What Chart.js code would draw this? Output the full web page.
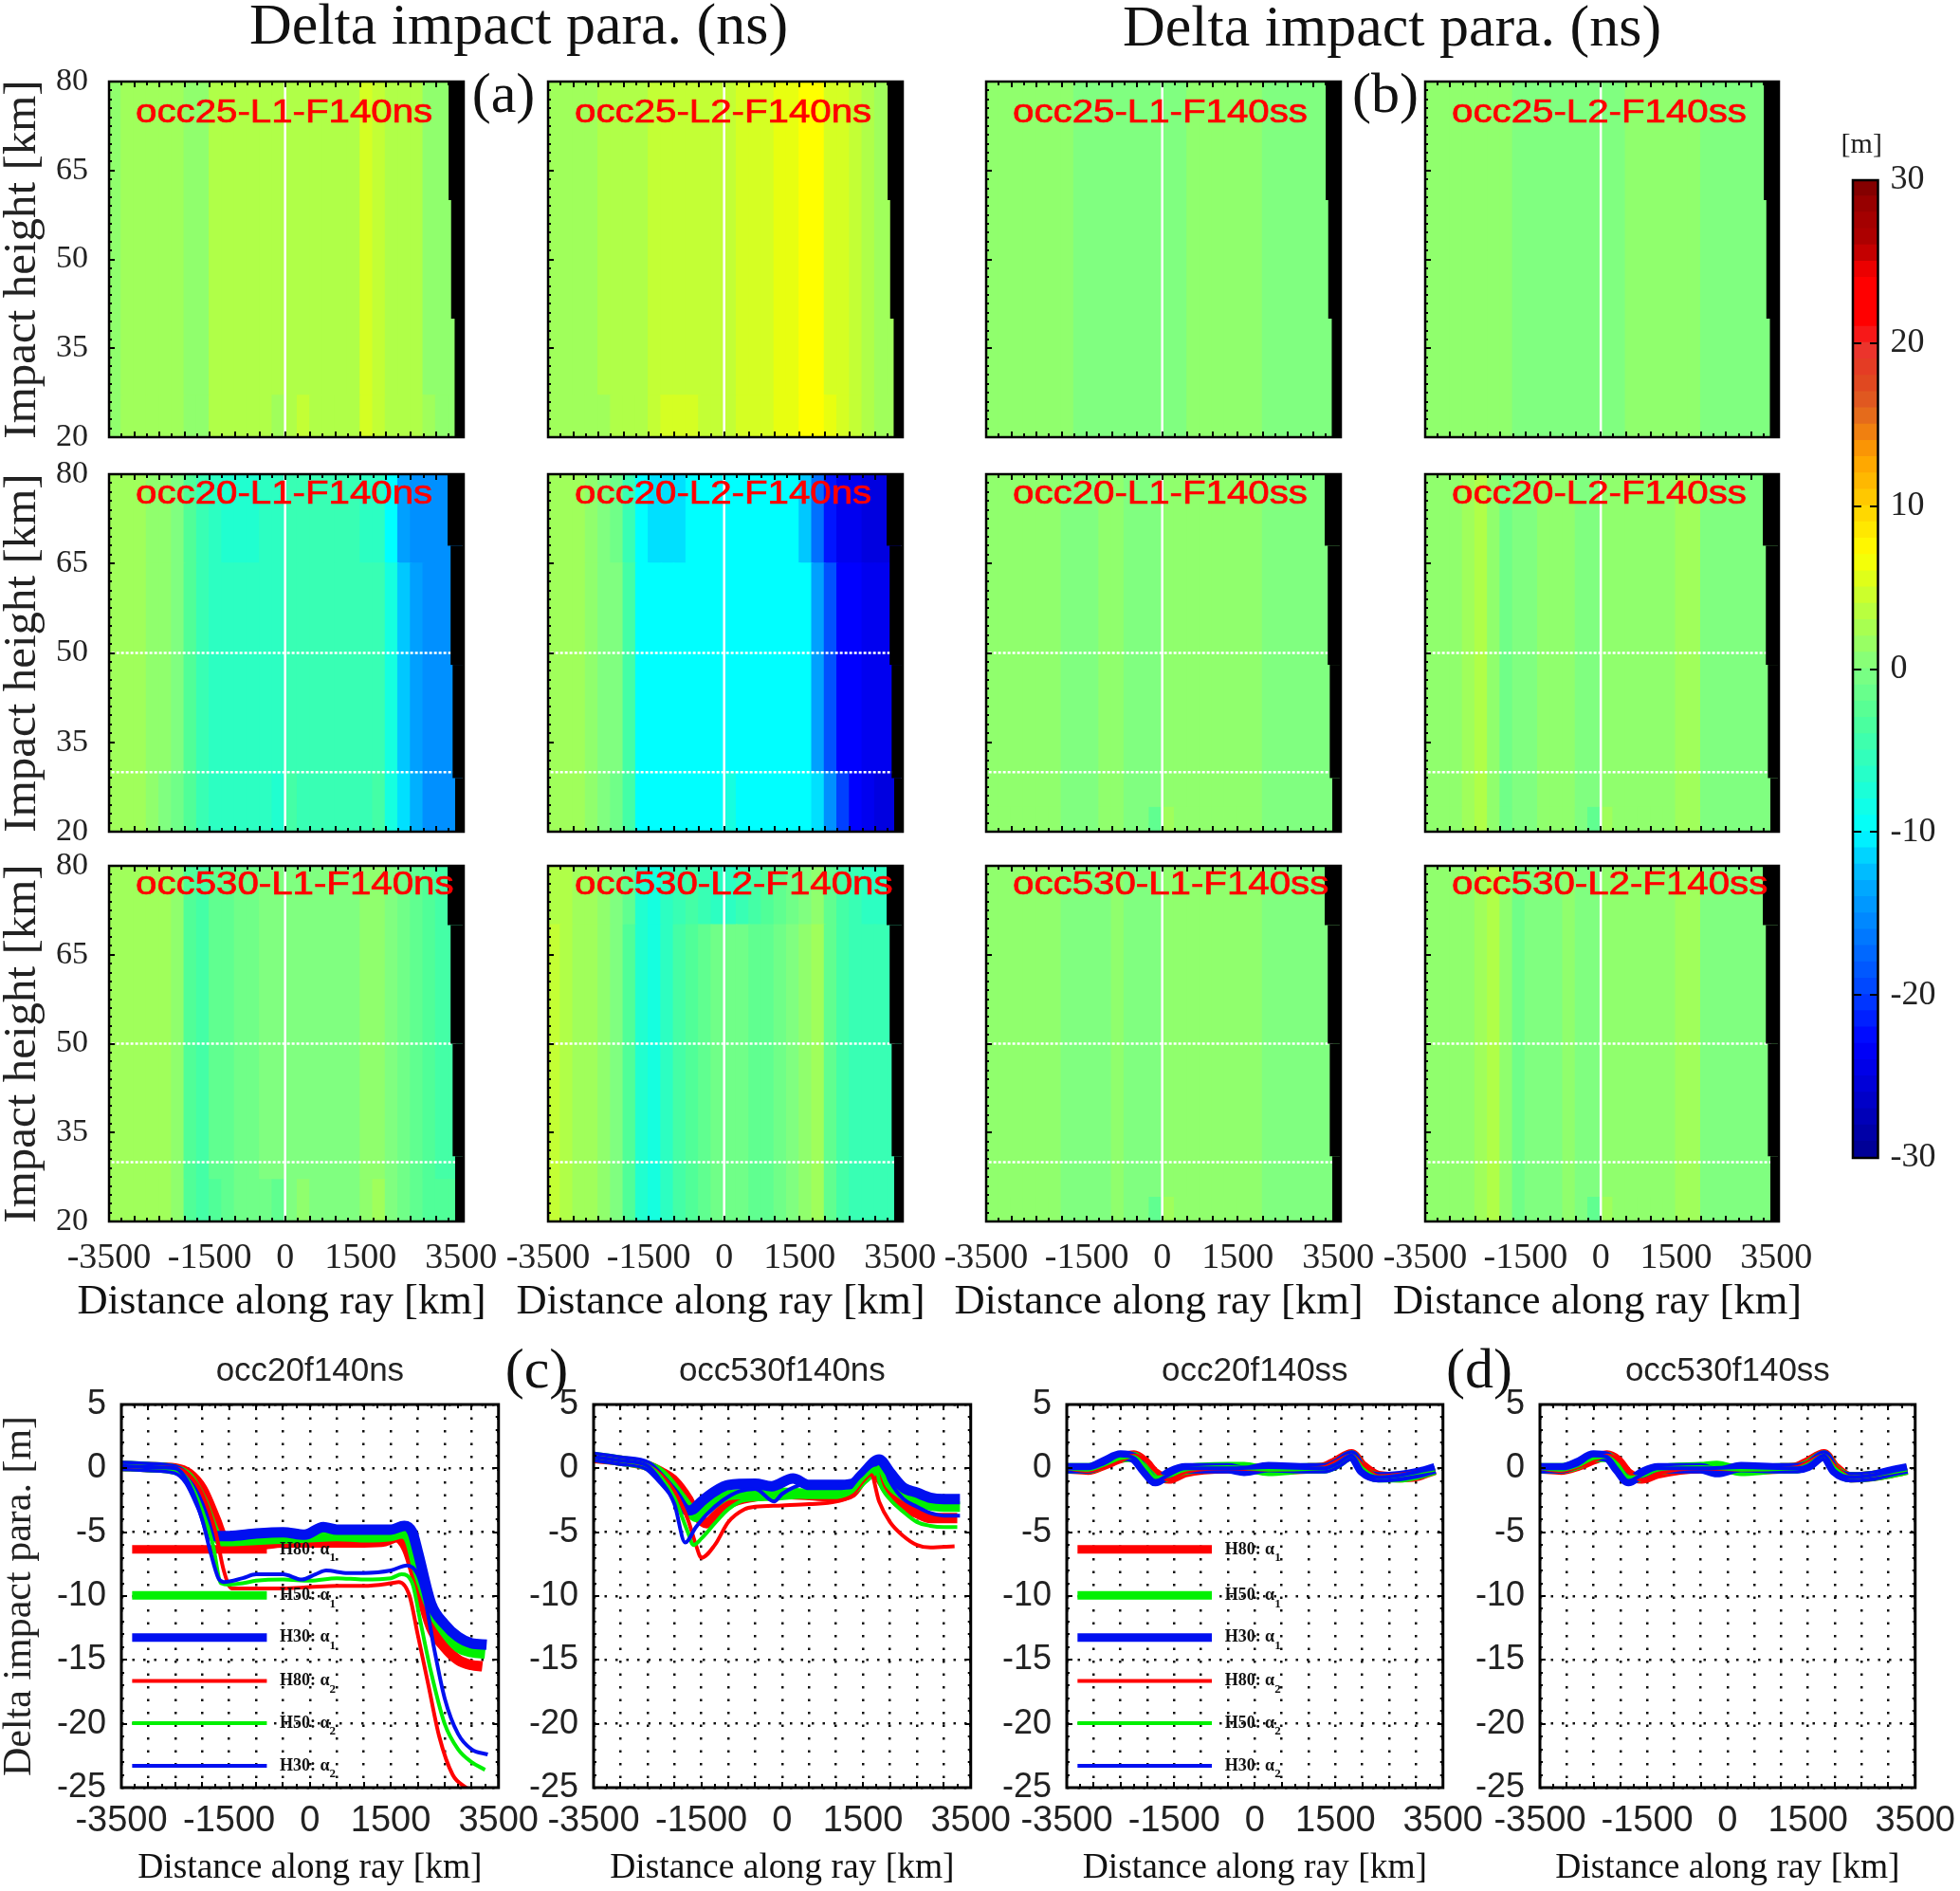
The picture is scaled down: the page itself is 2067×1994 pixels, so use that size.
<!DOCTYPE html>
<html>
<head>
<meta charset="utf-8">
<title>Delta impact para.</title>
<script src="https://cdn.jsdelivr.net/npm/chart.js@4"></script>
<style>
  html, body { margin: 0; background: #fff; }
  #page { position: relative; width: 2067px; height: 1994px; overflow: hidden; background: #fff; }
  #page canvas { position: absolute; }
  .head { position: absolute; font-family: "Liberation Serif", serif; color: #111; white-space: nowrap; transform: translate(-50%, -50%); }
</style>
</head>
<body>
<div id="page"></div>
<script>
// distance axis of the colour panels (centre of every column, km)
const heatDistance = [-3375,-3125,-2875,-2625,-2375,-2125,-1875,-1625,-1375,-1125,-875,-625,-375,-125,125,375,625,875,1125,1375,1625,1875,2125,2375,2625,2875,3125,3375];

// height bands of the colour panels (km), low to high
const bandsLow = [20, 27, 80];
const bandsThin = [20, 24, 80];
const bandsFull = [20, 80];
const bandsSlant = [20, 30, 65, 80];
const bandsHigh = [20, 70, 80];

// colour panel values [m], one row per height band, low to high
const occ25L1ns = [
  [1,2,2,2,2,2,1,1,3,3,3,3,3,2,3,4,3,3,3,3,5,4,3,3,3,2,1,1],
  [1,2,2,2,2,2,1,1,3,3,3,3,3,3,3,3,3,3,3,3,5,4,3,3,3,1,1,1]];
const occ25L2ns = [
  [2,2,2,2,2,3,3,3,4,5,5,5,4,4,4,5,5,5,6,6,7,7,6,5,4,3,2,2],
  [2,2,2,2,3,3,3,3,4,4,4,4,4,4,4,5,5,5,6,6,7,7,5,5,4,3,2,2]];
const occ25L1ss = [[1,1,1,1,1,1,1,0,0,0,0,0,0,0,0,0,1,1,1,1,1,1,0,0,0,0,0,0]];
const occ25L2ss = [[1,1,1,1,1,1,1,0,0,0,0,0,0,0,0,0,1,1,1,1,1,1,0,0,0,0,0,0]];
const occ20L1ns = [
  [2,2,2,1,0,-1,-3,-5,-6,-6,-6,-6,-6,-7,-4,-5,-5,-5,-5,-5,-5,-4,-8,-11,-13,-15,-15,-15],
  [2,2,2,1,1,0,-3,-5,-6,-6,-6,-6,-6,-6,-5,-5,-5,-5,-5,-5,-5,-5,-8,-12,-14,-15,-15,-15],
  [2,2,2,1,1,0,-3,-5,-6,-7,-7,-7,-6,-6,-5,-5,-5,-5,-5,-5,-6,-6,-10,-14,-15,-15,-15,-15]];
const occ20L2ns = [
  [2,2,2,1,0,-1,-4,-10,-10,-10,-10,-10,-10,-10,-8,-10,-10,-10,-10,-10,-10,-11,-15,-20,-23,-24,-25,-25],
  [2,2,2,1,0,0,-4,-10,-10,-10,-10,-10,-10,-10,-10,-10,-10,-10,-10,-10,-10,-14,-19,-23,-23,-24,-24,-24],
  [2,2,2,1,0,-1,-5,-10,-11,-11,-11,-10,-10,-10,-10,-10,-10,-10,-10,-10,-12,-17,-22,-24,-24,-25,-25,-25]];
const occ20L1ss = [
  [1,1,1,1,1,1,0,0,0,1,1,0,0,-2,2,1,1,1,1,1,1,1,0,0,0,0,0,0],
  [1,1,1,1,1,1,0,0,0,1,1,0,0,0,1,1,1,1,1,1,1,1,0,0,0,0,0,0]];
const occ20L2ss = [
  [1,1,1,2,3,1,-1,0,0,1,1,1,0,-2,2,1,1,1,1,1,2,2,0,0,0,0,0,0],
  [1,1,1,2,3,1,-1,0,0,1,1,1,0,0,1,1,1,1,1,1,2,2,0,0,0,0,0,0]];
const occ530L1ns = [
  [2,2,2,2,2,1,-3,-4,-3,-2,-1,-1,-1,-2,0,1,0,0,0,0,1,2,0,-1,-2,-3,-3,-3],
  [2,2,2,2,2,1,-3,-4,-2,-2,-1,-1,0,0,0,0,0,0,0,0,1,1,0,-1,-2,-3,-4,-4]];
const occ530L2ns = [
  [4,3,2,2,1,0,-3,-7,-8,-6,-4,-3,-2,-1,-1,-1,-2,-2,-1,0,1,2,-2,-4,-5,-5,-5,-5],
  [3,3,2,2,1,0,-2,-7,-8,-6,-5,-4,-5,-6,-6,-5,-4,-3,-2,-1,0,1,-2,-4,-5,-6,-6,-7]];
const occ530L1ss = [
  [1,1,1,1,1,1,0,0,0,0,1,0,0,-2,2,1,1,1,1,1,1,1,0,0,0,0,0,0],
  [1,1,1,1,1,1,0,0,0,0,1,0,0,0,1,1,1,1,1,1,1,1,0,0,0,0,0,0]];
const occ530L2ss = [
  [1,1,1,1,2,3,1,-1,0,0,0,1,0,-2,2,1,1,1,1,1,2,2,0,0,0,0,0,0],
  [1,1,1,1,2,3,1,-1,0,0,0,1,0,0,1,1,1,1,1,1,2,2,0,0,0,0,0,0]];

// where the rays end: [from height, to height, distance]
const rayEndRow25 = [[60,80,3250],[40,60,3300],[20,40,3370]];
const rayEndRow20 = [[68,80,3230],[48,68,3290],[29,48,3330],[20,29,3380]];
const rayEndRow530 = [[70,80,3230],[50,70,3290],[31,50,3330],[20,31,3380]];

// tick labels
const distanceLabels = [-3500,-1500,0,1500,3500];
const heightLabels = [20,35,50,65,80];
const deltaLabels = [5,0,-5,-10,-15,-20,-25];
const barLabels = [30,20,10,0,-10,-20,-30];

// colour scale of the bar on the right: [value, colour]
const colourStops = [[-30,'#00008f'],[-25,'#0000e0'],[-23,'#0000ff'],[-20,'#0040ff'],[-17,'#0070ff'],[-15,'#0090ff'],[-13,'#00b0ff'],[-11,'#00e0ff'],[-10,'#00ffff'],[-7,'#20ffd0'],[-3,'#50ff98'],[0,'#80ff80'],[3,'#b0ff48'],[6,'#e8ff10'],[7,'#ffff00'],[10,'#ffd000'],[13,'#ffa000'],[16,'#e06020'],[18,'#e04020'],[20,'#ee3030'],[21,'#ff0000'],[24,'#ff0000'],[26,'#b00000'],[28,'#a00000'],[30,'#7a0000']];

// occ20f140ns curves [distance, delta]
const c1H80a1 = [[-3500,.2],[-3000,.1],[-2500,0],[-2250,-.4],[-2000,-1.6],[-1750,-4],[-1600,-5.6],[-1500,-5.9],[-1000,-6],[-500,-5.8],[0,-5.8],[500,-5.8],[1000,-5.8],[1400,-5.7],[1600,-5.4],[1800,-6.3],[2000,-9],[2250,-12.5],[2500,-14],[2750,-15],[3000,-15.4],[3200,-15.5]];
const c1H50a1 = [[-3500,.2],[-3000,.1],[-2500,-.1],[-2250,-.7],[-2000,-2.5],[-1750,-5.2],[-1650,-5.7],[-1000,-5.6],[-500,-5.5],[0,-5.4],[500,-5.3],[1000,-5.4],[1500,-5.3],[1700,-5.1],[1850,-5.6],[2000,-8],[2250,-11],[2500,-12.8],[2750,-14],[3000,-14.4],[3250,-14.5]];
const c1H30a1 = [[-3500,.2],[-3000,.1],[-2500,-.1],[-2250,-1],[-2000,-3.2],[-1800,-5.3],[-1500,-5.3],[-1000,-5.1],[-500,-5],[-100,-5.2],[250,-4.6],[500,-4.8],[1000,-4.8],[1500,-4.8],[1750,-4.5],[1900,-5],[2000,-6.5],[2250,-10.6],[2500,-12.2],[2750,-13.2],[3000,-13.7],[3280,-13.8]];
const c1H80a2 = [[-3500,.2],[-3000,.1],[-2500,0],[-2250,-.5],[-2000,-2],[-1750,-5],[-1600,-8],[-1450,-9.4],[-1000,-9.4],[-500,-9.4],[0,-9.3],[500,-9.2],[1000,-9.2],[1500,-9],[1650,-8.9],[1850,-10],[2000,-13],[2200,-17],[2400,-21],[2650,-24],[2900,-25],[3000,-25.3]];
const c1H50a2 = [[-3500,.2],[-3000,.1],[-2500,-.1],[-2250,-1],[-2000,-3.3],[-1800,-6],[-1650,-9],[-1500,-9.1],[-1250,-9],[-1000,-8.8],[-500,-8.7],[0,-8.8],[500,-8.6],[1000,-8.7],[1500,-8.6],[1700,-8.3],[1900,-9],[2050,-12],[2250,-16],[2500,-20],[2750,-22],[3000,-23],[3250,-23.6]];
const c1H30a2 = [[-3500,.2],[-3000,.1],[-2500,0],[-2250,-1.2],[-2000,-4],[-1850,-6.5],[-1700,-8.6],[-1600,-8.9],[-1250,-8.6],[-1000,-8.3],[-500,-8.3],[-150,-8.7],[100,-8.3],[300,-8],[700,-8.2],[1000,-8.2],[1500,-8],[1800,-7.6],[2000,-8.3],[2150,-10.5],[2300,-14],[2500,-18],[2750,-20.8],[3000,-22],[3300,-22.4]];

// occ530f140ns curves
const c2H80a1 = [[-3500,.8],[-3000,.6],[-2500,.2],[-2250,-.3],[-2000,-1],[-1750,-2.4],[-1600,-3.6],[-1400,-4.3],[-1250,-3.8],[-1000,-2.8],[-500,-2.2],[0,-2],[500,-2.1],[1000,-2.2],[1300,-1.9],[1500,-.8],[1700,-.1],[1850,-1],[2000,-2],[2250,-3],[2500,-3.5],[2750,-3.9],[3000,-3.9],[3250,-3.9]];
const c2H50a1 = [[-3500,.9],[-3000,.6],[-2500,.2],[-2250,-.4],[-2000,-1.6],[-1750,-3],[-1600,-3.8],[-1400,-3.2],[-1250,-2.7],[-1000,-2.1],[-500,-2],[0,-1.9],[500,-2],[1000,-2],[1300,-1.7],[1500,-.9],[1750,0],[1830,.2],[2000,-1.2],[2250,-2.1],[2500,-2.6],[2750,-2.9],[3000,-3],[3300,-3]];
const c2H30a1 = [[-3500,.9],[-3000,.6],[-2500,.2],[-2250,-.8],[-2000,-2],[-1750,-3.3],[-1650,-3.2],[-1500,-2.6],[-1250,-1.8],[-1000,-1.3],[-500,-1.2],[-200,-1.4],[200,-.8],[500,-1.3],[1000,-1.3],[1300,-1.2],[1500,-.4],[1800,.7],[2000,-.3],[2250,-1.5],[2500,-1.9],[2750,-2.3],[3000,-2.4],[3300,-2.4]];
const c2H80a2 = [[-3500,.9],[-3000,.6],[-2500,.2],[-2250,-.5],[-2000,-1.8],[-1750,-4],[-1600,-6],[-1500,-7],[-1250,-6],[-1000,-4.2],[-700,-3.2],[-500,-3],[0,-2.9],[500,-2.8],[1000,-2.6],[1300,-2.1],[1500,-1],[1650,-.5],[1800,-2.6],[2000,-4.2],[2250,-5.3],[2500,-6],[2750,-6.2],[3200,-6.1]];
const c2H50a2 = [[-3500,.9],[-3000,.6],[-2500,.2],[-2250,-.7],[-2000,-2.3],[-1750,-5],[-1650,-6],[-1500,-5.5],[-1250,-4.3],[-1000,-3.2],[-700,-2.5],[-200,-2.4],[500,-2.2],[1000,-2.2],[1300,-1.8],[1500,-.8],[1750,0],[1800,-1],[2000,-2.4],[2250,-3.4],[2500,-4.2],[2750,-4.5],[3000,-4.6],[3250,-4.6]];
const c2H30a2 = [[-3500,.9],[-3000,.6],[-2500,.2],[-2250,-1],[-2000,-2.8],[-1800,-5.8],[-1600,-4.6],[-1400,-3.6],[-1100,-2.5],[-800,-1.8],[-500,-1.6],[-150,-2.6],[0,-2],[400,-1.3],[1000,-1.3],[1400,-.8],[1750,.4],[1850,.4],[2000,-1],[2250,-2.4],[2500,-3],[2750,-3.5],[3000,-3.7],[3300,-3.7]];

// occ20f140ss curves
const c3H80a1 = [[-3500,0],[-3100,-.1],[-2800,.3],[-2500,.8],[-2250,1],[-2050,.5],[-1850,-.4],[-1600,-.8],[-1300,-.3],[-500,0],[-200,0],[250,-.1],[1000,0],[1300,.1],[1500,.5],[1800,1.1],[2000,.2],[2300,-.6],[2700,-.7],[3000,-.6],[3350,-.1]];
const c3H50a1 = [[-3500,0],[-3100,0],[-2800,.4],[-2500,.9],[-2250,.9],[-2050,.1],[-1850,-.8],[-1600,-.6],[-1300,-.1],[-500,.1],[-200,.1],[250,-.2],[1000,0],[1300,0],[1500,.3],[1800,1],[2000,-.1],[2300,-.7],[2700,-.7],[3000,-.5],[3350,-.1]];
const c3H30a1 = [[-3500,0],[-3100,0],[-2800,.5],[-2500,1],[-2250,.8],[-2050,-.2],[-1850,-1],[-1600,-.4],[-1300,0],[-500,0],[-200,-.2],[250,.1],[1000,0],[1300,0],[1500,.3],[1800,1],[2000,-.2],[2300,-.7],[2700,-.6],[3000,-.4],[3350,0]];
const c3H80a2 = [[-3500,0],[-3100,-.2],[-2800,.1],[-2500,.6],[-2250,1],[-2050,.7],[-1850,-.2],[-1600,-.9],[-1300,-.3],[-500,0],[250,-.1],[1300,.1],[1500,.5],[1800,1],[2000,.3],[2300,-.6],[3350,-.1]];
const c3H50a2 = [[-3500,0],[-3100,-.1],[-2800,.3],[-2500,.8],[-2250,.9],[-2050,.2],[-1850,-.7],[-1600,-.6],[-1300,-.1],[-500,.1],[250,-.1],[1300,0],[1500,.3],[1800,1],[2000,0],[2300,-.7],[3350,-.1]];
const c3H30a2 = [[-3500,0],[-3100,0],[-2800,.4],[-2500,1],[-2250,.8],[-2050,-.2],[-1850,-1],[-1600,-.5],[-1300,0],[-500,0],[250,.1],[1300,0],[1500,.3],[1800,1],[2000,-.2],[2300,-.7],[3350,0]];

// occ530f140ss curves
const c4H80a1 = [[-3500,0],[-3100,-.1],[-2800,.2],[-2500,.7],[-2250,1],[-2050,.6],[-1850,-.4],[-1600,-.8],[-1300,-.4],[-500,0],[-200,0],[250,-.1],[1000,0],[1300,.1],[1500,.5],[1800,1.1],[2000,.1],[2300,-.7],[2700,-.6],[3000,-.4],[3350,-.1]];
const c4H50a1 = [[-3500,0],[-3100,0],[-2800,.3],[-2500,.9],[-2250,.9],[-2050,.2],[-1850,-.8],[-1600,-.6],[-1300,-.1],[-500,.1],[-200,.2],[250,-.2],[1000,0],[1300,0],[1500,.3],[1800,1],[2000,-.1],[2300,-.7],[2700,-.6],[3000,-.4],[3350,-.1]];
const c4H30a1 = [[-3500,0],[-3100,0],[-2800,.4],[-2500,1],[-2250,.9],[-2050,-.1],[-1850,-1],[-1600,-.4],[-1300,0],[-500,0],[-200,-.3],[250,.1],[1000,0],[1300,0],[1500,.2],[1800,1],[2000,-.2],[2300,-.7],[2700,-.6],[3000,-.3],[3350,0]];
const c4H80a2 = [[-3500,0],[-3100,-.2],[-2800,.1],[-2500,.6],[-2250,1],[-2050,.7],[-1850,-.3],[-1600,-.9],[-1300,-.4],[-500,0],[250,-.1],[1300,.1],[1500,.5],[1800,1],[2000,.2],[2300,-.7],[3350,-.1]];
const c4H50a2 = [[-3500,0],[-3100,-.1],[-2800,.2],[-2500,.8],[-2250,.9],[-2050,.3],[-1850,-.7],[-1600,-.6],[-1300,-.1],[-500,.1],[250,-.1],[1300,0],[1500,.3],[1800,1],[2000,0],[2300,-.7],[3350,-.1]];
const c4H30a2 = [[-3500,0],[-3100,0],[-2800,.3],[-2500,1],[-2250,.9],[-2050,-.1],[-1850,-1],[-1600,-.5],[-1300,0],[-500,0],[250,.1],[1300,0],[1500,.2],[1800,1],[2000,-.2],[2300,-.7],[3350,0]];

// legend inside the left plots of (c) and (d)
const legendNames = ['H80','H50','H30','H80','H50','H30'];
const legendSubs = ['1','1','1','2','2','2'];
const legendLevels = [-6.35,-9.95,-13.25,-16.65,-19.95,-23.3];
const legendSpan = [-3300,-800];
const legendWidths = [9,9,9,4,4,4];

// layout of the picture, in pixels
const SERIF = '"Liberation Serif", serif';
const SANS = '"Liberation Sans", sans-serif';
const heatLefts = [115,578,1040,1503];
const heatRights = [489,952,1414,1876];
const heatTops = [86,500,913];
const heatBottoms = [461,877,1288];
const lineLefts = [128,626,1125,1624];
const lineRights = [531,1029,1527,2025];
const lineStyles = [['#ff0000',11],['#00f000',11],['#0010f0',11],['#ff0000',4],['#00f000',4],['#0010f0',4]];

const page = document.getElementById('page');

function heading(text, x, y, size) {
  const d = document.createElement('div');
  d.className = 'head';
  d.textContent = text;
  d.style.left = x + 'px';
  d.style.top = y + 'px';
  d.style.fontSize = size + 'px';
  page.appendChild(d);
}

function makeCanvas(left, top, width, height) {
  const c = document.createElement('canvas');
  c.width = width;
  c.height = height;
  c.style.left = left + 'px';
  c.style.top = top + 'px';
  c.style.width = width + 'px';
  c.style.height = height + 'px';
  page.appendChild(c);
  return c;
}

// value to colour, reads between the stops of the colour bar
function colourOf(v) {
  let i = 0;
  while (i < colourStops.length - 2 && v > colourStops[i + 1][0]) i++;
  const [v0, c0] = colourStops[i];
  const [v1, c1] = colourStops[i + 1];
  const t = Math.max(0, Math.min(1, (v - v0) / (v1 - v0)));
  const ch = (c, p) => parseInt(c.substr(p, 2), 16);
  const mix = p => Math.round(ch(c0, p) + (ch(c1, p) - ch(c0, p)) * t);
  return `rgb(${mix(1)},${mix(3)},${mix(5)})`;
}

// inner tick marks, frame, black no-data strip, red names, legend labels
const panelFrame = {
  id: 'panelFrame',
  afterDatasetsDraw(chart, args, opts) {
    const ctx = chart.ctx;
    const area = chart.chartArea;
    const sx = chart.scales.x;
    const sy = chart.scales.y;
    ctx.save();

    if (opts.rayEnd) {
      ctx.fillStyle = '#000';
      opts.rayEnd.forEach(([lo, hi, end]) => {
        const x = sx.getPixelForValue(end);
        const yTop = sy.getPixelForValue(hi);
        ctx.fillRect(x, yTop, area.right - x, sy.getPixelForValue(lo) - yTop);
      });
    }

    ctx.strokeStyle = '#000';
    ctx.lineWidth = 2;
    ctx.beginPath();
    sx.ticks.forEach(t => {
      if (t.value % 250 !== 0) return;
      const x = Math.round(sx.getPixelForValue(t.value));
      const len = t.value % 500 === 0 ? 6 : 4;
      ctx.moveTo(x, area.bottom); ctx.lineTo(x, area.bottom - len);
      ctx.moveTo(x, area.top); ctx.lineTo(x, area.top + len);
    });
    sy.ticks.forEach(t => {
      const y = Math.round(sy.getPixelForValue(t.value));
      const len = opts.majorY.includes(t.value) ? 6 : 3;
      ctx.moveTo(area.left, y); ctx.lineTo(area.left + len, y);
      if (opts.rightTicks) { ctx.moveTo(area.right, y); ctx.lineTo(area.right - len, y); }
    });
    ctx.stroke();

    ctx.lineWidth = opts.frameWidth;
    ctx.strokeRect(area.left, area.top, area.right - area.left, area.bottom - area.top);

    if (opts.name) {
      ctx.fillStyle = '#ff0000';
      ctx.strokeStyle = '#ff0000';
      ctx.lineWidth = 0.7;
      ctx.font = '35px ' + SANS;
      ctx.textBaseline = 'middle';
      ctx.translate(area.left + opts.nameX, area.top + opts.nameY);
      ctx.scale(1.15, 1);
      ctx.fillText(opts.name, 0, 0);
      ctx.strokeText(opts.name, 0, 0);
      ctx.setTransform(1, 0, 0, 1, 0, 0);
    }

    // the (a)/(b) axis title is wider than its plot, the scale title would squeeze it
    if (opts.bottomTitle) {
      ctx.fillStyle = '#111';
      ctx.font = '44.5px ' + SERIF;
      ctx.textAlign = 'center';
      ctx.textBaseline = 'middle';
      ctx.fillText(opts.bottomTitle, (area.left + area.right) / 2 - 5, area.bottom + 85);
      ctx.textAlign = 'left';
    }

    if (opts.legend) {
      ctx.fillStyle = '#111';
      ctx.textBaseline = 'middle';
      legendNames.forEach((n, i) => {
        const x = sx.getPixelForValue(-560);
        const y = sy.getPixelForValue(legendLevels[i]);
        ctx.font = 'bold 18px ' + SERIF;
        const label = n + ': \u03b1';
        ctx.fillText(label, x, y);
        const labelWidth = ctx.measureText(label).width;
        ctx.font = 'bold 13px ' + SERIF;
        ctx.fillText(legendSubs[i], x + labelWidth, y + 9);
      });
    }
    ctx.restore();
  }
};
Chart.register(panelFrame);

function heatChart(col, row, name, rows, bands, rayEnd, nameY) {
  const l = col === 0 ? 115 : 60;
  const t = 45, r = 50, b = row === 2 ? 112 : 45;
  const w = heatRights[col] - heatLefts[col], h = heatBottoms[row] - heatTops[row];
  const canvas = makeCanvas(heatLefts[col] - l, heatTops[row] - t, l + w + r, t + h + b);

  const datasets = [];
  datasets.push({ type: 'line', data: [{x: 0, y: 20}, {x: 0, y: 80}], borderColor: '#fff', borderWidth: 2.5, pointRadius: 0, order: 0 });
  if (row > 0) {
    [50, 30].forEach(level => {
      datasets.push({ type: 'line', data: [{x: -3450, y: level}, {x: 3400, y: level}], borderColor: '#fff', borderWidth: 2.5, borderDash: [3, 2], pointRadius: 0, order: 0 });
    });
  }
  rows.forEach((vals, i) => {
    datasets.push({
      type: 'bar',
      stack: 'h',
      order: 1,
      barPercentage: 1,
      categoryPercentage: 1,
      borderWidth: 0,
      inflateAmount: 1,
      data: vals.map((v, k) => ({ x: heatDistance[k], y: [bands[i], bands[i + 1]] })),
      backgroundColor: vals.map(colourOf)
    });
  });

  new Chart(canvas, {
    type: 'bar',
    data: { datasets },
    options: {
      responsive: false,
      animation: false,
      layout: { padding: { top: t, right: r, left: 0, bottom: 0 } },
      plugins: {
        legend: { display: false },
        tooltip: { enabled: false },
        panelFrame: { rayEnd, name, nameX: 28, nameY, majorY: heightLabels, frameWidth: 2.5, rightTicks: false,
          bottomTitle: row === 2 ? 'Distance along ray [km]' : null }
      },
      scales: {
        x: {
          type: 'linear', offset: false, min: -3500, max: 3550,
          grid: { display: false, offset: false }, border: { display: false },
          afterBuildTicks: s => { s.ticks = Array.from({length: 29}, (_, k) => ({ value: -3500 + k * 250 })); },
          ticks: {
            display: row === 2, autoSkip: false, maxRotation: 0, minRotation: 0, padding: 8,
            color: '#222', font: { family: SERIF, size: 38 },
            callback: v => distanceLabels.includes(v) ? v : ''
          },
          afterFit: s => { s.height = b; }
        },
        y: {
          min: 20, max: 80, stacked: false,
          grid: { display: false }, border: { display: false },
          afterBuildTicks: s => { s.ticks = Array.from({length: 41}, (_, k) => ({ value: 20 + k * 1.5 })); },
          ticks: {
            display: col === 0, autoSkip: false, padding: 14,
            color: '#222', font: { family: SERIF, size: 34 },
            callback: v => heightLabels.includes(v) ? v : ''
          },
          title: { display: col === 0, text: 'Impact height [km]', color: '#222', font: { family: SERIF, size: 49, lineHeight: 1 }, padding: 0 },
          afterFit: s => { s.width = l; }
        }
      }
    }
  });
}

function lineChart(col, title, curves, showLegend) {
  const l = col === 0 ? 128 : 90;
  const plotTop = 1481, plotBottom = 1885, t = 55, r = 50, b = 104;
  const w = lineRights[col] - lineLefts[col];
  const canvas = makeCanvas(lineLefts[col] - l, plotTop - t, l + w + r, t + (plotBottom - plotTop) + b);

  const datasets = [];
  let order = 0;
  curves.forEach((pts, i) => {
    const [color, width] = lineStyles[i];
    datasets.push({ type: 'line', data: pts.map(([x, y]) => ({x, y})), borderColor: color, borderWidth: width, pointRadius: 0, cubicInterpolationMode: 'monotone', borderJoinStyle: 'round', order: order-- });
    if (showLegend) {
      datasets.push({ type: 'line', data: legendSpan.map(x => ({x, y: legendLevels[i]})), borderColor: color, borderWidth: legendWidths[i], pointRadius: 0, order: order-- });
    }
  });

  new Chart(canvas, {
    type: 'line',
    data: { datasets },
    options: {
      responsive: false,
      animation: false,
      layout: { padding: { right: r } },
      plugins: {
        legend: { display: false },
        tooltip: { enabled: false },
        title: { display: true, text: title, fullSize: false, color: '#222', font: { family: SANS, size: 35, weight: 'normal', lineHeight: 1 }, padding: { top: 3, bottom: 17 } },
        panelFrame: { majorY: deltaLabels, frameWidth: 3, rightTicks: true, legend: showLegend }
      },
      scales: {
        x: {
          type: 'linear', min: -3500, max: 3500,
          grid: { color: c => (c.tick.value % 500 === 0 ? '#111' : 'rgba(0,0,0,0)'), lineWidth: 2.5, drawTicks: false },
          border: { display: false, dash: [2.5, 11] },
          ticks: {
            stepSize: 250, autoSkip: false, maxRotation: 0, minRotation: 0, padding: 13,
            color: '#222', font: { family: SANS, size: 38 },
            callback: v => distanceLabels.includes(v) ? v : ''
          },
          title: { display: true, text: 'Distance along ray [km]', color: '#111', font: { family: SERIF, size: 37.5, lineHeight: 1 }, padding: 0 },
          afterFit: s => { s.height = b; }
        },
        y: {
          min: -25, max: 5,
          grid: { color: c => (c.tick.value % 5 === 0 ? '#111' : 'rgba(0,0,0,0)'), lineWidth: 2.5, drawTicks: false },
          border: { display: false, dash: [2.5, 9] },
          ticks: {
            stepSize: 1, autoSkip: false, padding: 16,
            color: '#222', font: { family: SANS, size: 36 },
            callback: v => deltaLabels.includes(v) ? v : ''
          },
          title: { display: col === 0, text: 'Delta impact para. [m]', color: '#222', font: { family: SERIF, size: 42, lineHeight: 1 }, padding: 0 },
          afterFit: s => { s.width = l; }
        }
      }
    }
  });
}

function colourBar() {
  const canvas = makeCanvas(1934, 130, 133, 1151);
  const levels = Array.from({length: 60}, (_, k) => k - 30);
  const dashTicks = {
    id: 'dashTicks',
    afterDatasetsDraw(chart) {
      const ctx = chart.ctx, a = chart.chartArea, sy = chart.scales.y;
      ctx.save();
      ctx.strokeStyle = '#000';
      ctx.lineWidth = 2;
      ctx.setLineDash([9, 9]);
      [20, 10, 0, -10, -20].forEach(v => {
        const y = Math.round(sy.getPixelForValue(v));
        ctx.beginPath(); ctx.moveTo(a.left, y); ctx.lineTo(a.right, y); ctx.stroke();
      });
      ctx.setLineDash([]);
      ctx.lineWidth = 2.5;
      ctx.strokeRect(a.left, a.top, a.right - a.left, a.bottom - a.top);
      // unit above the bar, wider than the bar itself
      ctx.fillStyle = '#222';
      ctx.font = '30px ' + SERIF;
      ctx.textAlign = 'center';
      ctx.textBaseline = 'middle';
      ctx.fillText('[m]', (a.left + a.right) / 2 - 4, a.top - 37);
      ctx.restore();
    }
  };
  new Chart(canvas, {
    type: 'bar',
    plugins: [dashTicks],
    data: {
      labels: ['m'],
      datasets: levels.map(v => ({
        data: [[v, v + 1]], stack: 'c', backgroundColor: colourOf(v + 0.5),
        barPercentage: 1, categoryPercentage: 1, borderWidth: 0, inflateAmount: 1
      }))
    },
    options: {
      responsive: false,
      animation: false,
      layout: { padding: { left: 20, top: 60, bottom: 60 } },
      plugins: {
        legend: { display: false },
        tooltip: { enabled: false },
        panelFrame: false
      },
      scales: {
        x: { grid: { display: false }, border: { display: false }, ticks: { display: false }, afterFit: s => { s.height = 0; } },
        y: {
          position: 'right', min: -30, max: 30, stacked: false,
          grid: { display: false, drawTicks: false }, border: { display: false },
          ticks: { stepSize: 10, padding: 13, color: '#222', font: { family: SERIF, size: 36 }, callback: v => barLabels.includes(v) ? v : '' },
          afterFit: s => { s.width = 86.5; }
        }
      }
    }
  });
}

heading('Delta impact para. (ns)', 547, 25, 62);
heading('Delta impact para. (ns)', 1468, 27, 62);
heading('(a)', 531, 98, 60);
heading('(b)', 1461, 98, 60);
heading('(c)', 566, 1443, 60);
heading('(d)', 1560, 1443, 60);

heatChart(0, 0, 'occ25-L1-F140ns', occ25L1ns, bandsLow, rayEndRow25, 33);
heatChart(1, 0, 'occ25-L2-F140ns', occ25L2ns, bandsLow, rayEndRow25, 33);
heatChart(2, 0, 'occ25-L1-F140ss', occ25L1ss, bandsFull, rayEndRow25, 33);
heatChart(3, 0, 'occ25-L2-F140ss', occ25L2ss, bandsFull, rayEndRow25, 33);
heatChart(0, 1, 'occ20-L1-F140ns', occ20L1ns, bandsSlant, rayEndRow20, 21);
heatChart(1, 1, 'occ20-L2-F140ns', occ20L2ns, bandsSlant, rayEndRow20, 21);
heatChart(2, 1, 'occ20-L1-F140ss', occ20L1ss, bandsThin, rayEndRow20, 21);
heatChart(3, 1, 'occ20-L2-F140ss', occ20L2ss, bandsThin, rayEndRow20, 21);
heatChart(0, 2, 'occ530-L1-F140ns', occ530L1ns, bandsLow, rayEndRow530, 20);
heatChart(1, 2, 'occ530-L2-F140ns', occ530L2ns, bandsHigh, rayEndRow530, 20);
heatChart(2, 2, 'occ530-L1-F140ss', occ530L1ss, bandsThin, rayEndRow530, 20);
heatChart(3, 2, 'occ530-L2-F140ss', occ530L2ss, bandsThin, rayEndRow530, 20);

lineChart(0, 'occ20f140ns', [c1H80a1, c1H50a1, c1H30a1, c1H80a2, c1H50a2, c1H30a2], true);
lineChart(1, 'occ530f140ns', [c2H80a1, c2H50a1, c2H30a1, c2H80a2, c2H50a2, c2H30a2], false);
lineChart(2, 'occ20f140ss', [c3H80a1, c3H50a1, c3H30a1, c3H80a2, c3H50a2, c3H30a2], true);
lineChart(3, 'occ530f140ss', [c4H80a1, c4H50a1, c4H30a1, c4H80a2, c4H50a2, c4H30a2], false);

colourBar();
</script>
</body>
</html>
